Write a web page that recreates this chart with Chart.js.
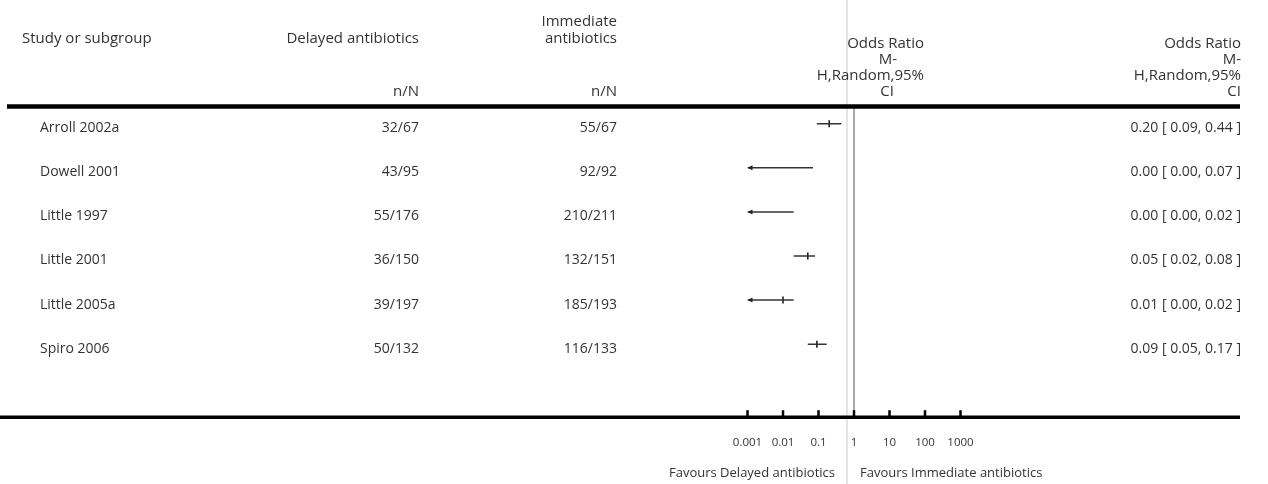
<!DOCTYPE html>
<html>
<head>
<meta charset="utf-8">
<script src="https://cdn.jsdelivr.net/npm/chart.js@4"></script>
<style>
    html, body { margin: 0; padding: 0; background: #fff; }
    #wrap { width: 1268px; height: 484px; position: relative; }
</style>
</head>
<body>
<div id="wrap"><canvas id="forest"></canvas></div>
<script>
const studies = ['Arroll 2002a', 'Dowell 2001', 'Little 1997', 'Little 2001', 'Little 2005a', 'Spiro 2006'];
const delayedCounts = ['32/67', '43/95', '55/176', '36/150', '39/197', '50/132'];
const immediateCounts = ['55/67', '92/92', '210/211', '132/151', '185/193', '116/133'];
const oddsRatio = [0.20, 0.00, 0.00, 0.05, 0.01, 0.09];
const ciLower = [0.09, 0.00, 0.00, 0.02, 0.00, 0.05];
const ciUpper = [0.44, 0.07, 0.02, 0.08, 0.02, 0.17];
const tickValues = [0.001, 0.01, 0.1, 1, 10, 100, 1000];
const tickLabels = ['0.001', '0.01', '0.1', '1', '10', '100', '1000'];

const xMin = 0.001;
const xMax = 1000;
const textColor = '#333';
const fontFamily = '"Open Sans", Lato, sans-serif';

function fmt(v) {
    return v.toFixed(2);
}

// CI whiskers, one little line per study
const ciSets = studies.map(function (s, i) {
    return {
        label: s,
        data: [{ x: Math.max(ciLower[i], xMin), y: i }, { x: ciUpper[i], y: i }],
        showLine: true,
        borderColor: '#333',
        borderWidth: 1.5,
        pointRadius: 0
    };
});

const estPoints = [];
for (var i = 0; i < oddsRatio.length; i++) {
    if (oddsRatio[i] >= xMin) estPoints.push({ x: oddsRatio[i], y: i });
}

const forestTable = {
    id: 'forestTable',
    beforeDatasetsDraw: function (chart) {
        const ctx = chart.ctx;
        const xs = chart.scales.x;
        const area = chart.chartArea;
        const one = xs.getPixelForValue(1);
        ctx.save();
        // faint separator
        ctx.strokeStyle = '#e4e4e4';
        ctx.lineWidth = 2;
        ctx.beginPath();
        ctx.moveTo(one - 7, 0);
        ctx.lineTo(one - 7, chart.height);
        ctx.stroke();
        // line of no effect
        ctx.strokeStyle = '#a8a8a8';
        ctx.lineWidth = 2;
        ctx.beginPath();
        ctx.moveTo(one, 108);
        ctx.lineTo(one, area.bottom + 1);
        ctx.stroke();
        ctx.restore();
    },
    afterDraw: function (chart) {
        const ctx = chart.ctx;
        const xs = chart.scales.x;
        const ys = chart.scales.y;
        const area = chart.chartArea;
        ctx.save();

        // header rule and axis rule
        ctx.strokeStyle = '#000';
        ctx.lineWidth = 4.5;
        ctx.beginPath();
        ctx.moveTo(7, 106.5);
        ctx.lineTo(1240, 106.5);
        ctx.stroke();
        const axisY = area.bottom + 2.5;
        ctx.lineWidth = 3.5;
        ctx.beginPath();
        ctx.moveTo(0, axisY);
        ctx.lineTo(1240, axisY);
        ctx.stroke();

        // tick marks sit above the rule
        ctx.lineWidth = 2.5;
        xs.ticks.forEach(function (t) {
            const px = xs.getPixelForValue(t.value);
            ctx.beginPath();
            ctx.moveTo(px, axisY - 7);
            ctx.lineTo(px, axisY);
            ctx.stroke();
        });

        // arrows for truncated intervals
        ctx.fillStyle = '#222';
        for (var i = 0; i < ciLower.length; i++) {
            if (ciLower[i] < xMin) {
                const px = xs.getPixelForValue(xMin);
                const py = ys.getPixelForValue(i);
                ctx.beginPath();
                ctx.moveTo(px, py);
                ctx.lineTo(px + 5, py - 2.5);
                ctx.lineTo(px + 5, py + 2.5);
                ctx.closePath();
                ctx.fill();
            }
        }

        ctx.fillStyle = textColor;
        ctx.textBaseline = 'alphabetic';
        ctx.font = '15px ' + fontFamily;

        function txt(s, x, y, align) {
            ctx.textAlign = align;
            ctx.fillText(s, x, y);
        }

        // column headers
        txt('Study or subgroup', 22, 43, 'left');
        txt('Delayed antibiotics', 419, 43, 'right');
        txt('Immediate', 617, 26, 'right');
        txt('antibiotics', 617, 43, 'right');
        txt('n/N', 419, 96, 'right');
        txt('n/N', 617, 96, 'right');

        txt('Odds Ratio', 924, 48, 'right');
        txt('M-', 888, 64, 'center');
        txt('H,Random,95%', 924, 80, 'right');
        txt('CI', 887, 96, 'center');

        txt('Odds Ratio', 1241, 48, 'right');
        txt('M-', 1241, 64, 'right');
        txt('H,Random,95%', 1241, 80, 'right');
        txt('CI', 1241, 96, 'right');

        // study rows
        ctx.font = '14px ' + fontFamily;
        for (var r = 0; r < studies.length; r++) {
            const py = ys.getPixelForValue(r) + 8.5;
            txt(studies[r], 40, py, 'left');
            txt(delayedCounts[r], 419, py, 'right');
            txt(immediateCounts[r], 617, py, 'right');
            txt(fmt(oddsRatio[r]) + ' [ ' + fmt(ciLower[r]) + ', ' + fmt(ciUpper[r]) + ' ]', 1241, py, 'right');
        }

        // favours labels
        ctx.font = '13px ' + fontFamily;
        const one = xs.getPixelForValue(1);
        txt('Favours Delayed antibiotics', one - 19, 477, 'right');
        txt('Favours Immediate antibiotics', one + 6, 477, 'left');

        ctx.restore();
    }
};

new Chart(document.getElementById('forest'), {
    type: 'scatter',
    data: {
        datasets: ciSets.concat([{
            label: 'Odds Ratio',
            data: estPoints,
            pointStyle: 'line',
            rotation: 90,
            radius: 3.5,
            borderWidth: 1.5,
            borderColor: '#111',
            backgroundColor: '#111'
        }])
    },
    options: {
        responsive: true,
        maintainAspectRatio: false,
        animation: false,
        layout: {
            padding: { left: 747.5, right: 307.5, top: 101.7, bottom: 13.5 }
        },
        plugins: {
            legend: { display: false },
            tooltip: { enabled: false }
        },
        scales: {
            x: {
                type: 'logarithmic',
                min: xMin,
                max: xMax,
                position: 'bottom',
                grid: { display: false, drawTicks: false },
                border: { display: false },
                afterBuildTicks: function (scale) {
                    scale.ticks = tickValues.map(function (v) { return { value: v }; });
                },
                ticks: {
                    autoSkip: false,
                    maxRotation: 0,
                    minRotation: 0,
                    padding: 21,
                    color: textColor,
                    font: { family: fontFamily, size: 11.5 },
                    callback: function (v, idx) { return tickLabels[idx]; }
                }
            },
            y: {
                type: 'linear',
                min: -0.5,
                max: 6.6,
                reverse: true,
                display: false
            }
        }
    },
    plugins: [forestTable]
});
</script>
</body>
</html>
